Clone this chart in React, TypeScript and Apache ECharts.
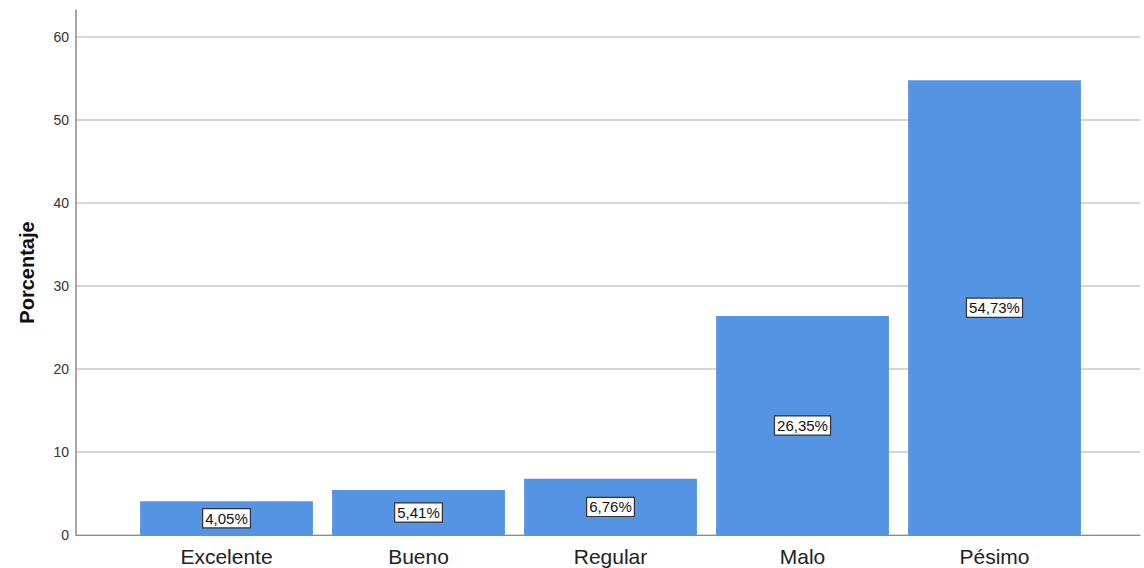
import React, { useEffect, useRef } from "react";
import * as echarts from "echarts";

const categories = ["Excelente", "Bueno", "Regular", "Malo", "Pésimo"];
const percentages = [4.05, 5.41, 6.76, 26.35, 54.73];
const yMin = 0;
const yMax = 63.2;
const yInterval = 10;

export default function App() {
  const ref = useRef<HTMLDivElement>(null);
  useEffect(() => {
    if (!ref.current) return;
    const chart = echarts.init(ref.current, undefined, { renderer: "svg" });
    const font = "Arial, 'Liberation Sans', sans-serif";
    chart.setOption({
      animation: false,
      backgroundColor: "#ffffff",
      grid: [
        { left: 76, right: 4, top: 10, bottom: 33 },
        { left: 130.5, right: 53.5, top: 10, bottom: 33 },
      ],
      xAxis: [
        {
          gridIndex: 0,
          type: "value",
          min: 0,
          max: 1,
          show: true,
          axisLine: { show: true, lineStyle: { color: "#8a8a8a", width: 1 } },
          axisTick: { show: false },
          axisLabel: { show: false },
          splitLine: { show: false },
        },
        {
          gridIndex: 1,
          type: "category",
          data: categories,
          axisLine: { show: false },
          axisTick: { show: false },
          axisLabel: {
            fontSize: 21,
            color: "#222222",
            fontFamily: font,
            margin: 11,
          },
        },
      ],
      yAxis: [
        {
          gridIndex: 0,
          type: "value",
          min: yMin,
          max: yMax,
          interval: yInterval,
          name: "Porcentaje",
          nameLocation: "middle",
          nameGap: 39,
          nameTextStyle: {
            fontSize: 20,
            fontWeight: "bold",
            color: "#111111",
            fontFamily: font,
          },
          axisLine: { show: true, lineStyle: { color: "#8a8a8a", width: 1.5 } },
          axisTick: { show: false },
          axisLabel: {
            fontSize: 14,
            color: "#333333",
            fontFamily: font,
            margin: 7,
            showMaxLabel: false,
          },
          splitLine: {
            show: true,
            showMaxLine: false,
            lineStyle: { color: "#c8c8c8", width: 1.5 },
          },
        },
        {
          gridIndex: 1,
          type: "value",
          min: yMin,
          max: yMax,
          show: false,
          splitLine: { show: false },
        },
      ],
      series: [
        {
          type: "bar",
          xAxisIndex: 1,
          yAxisIndex: 1,
          data: percentages,
          barCategoryGap: "10%",
          itemStyle: { color: "#5593e3" },
          label: {
            show: true,
            position: "inside",
            formatter: (p: any) => p.value.toFixed(2).replace(".", ",") + "%",
            fontSize: 15,
            fontFamily: font,
            color: "#111111",
            backgroundColor: "#ffffff",
            borderColor: "#333333",
            borderWidth: 1.2,
            padding: [2, 2, 1, 2],
          },
        },
      ],
    });
    return () => chart.dispose();
  }, []);
  return (
    <div
      ref={ref}
      style={{ position: "absolute", left: 0, top: 0, width: 1144, height: 568 }}
    />
  );
}
